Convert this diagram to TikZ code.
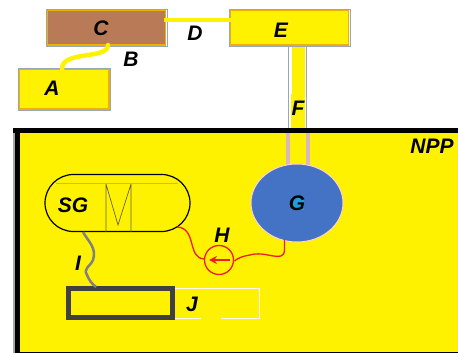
\documentclass[tikz,border=0pt]{standalone}
\usepackage{fontspec}
\setmainfont{Liberation Sans}
\usetikzlibrary{arrows.meta,shapes.misc,shapes.geometric,calc}
\definecolor{yel}{HTML}{FFF200}
\definecolor{org}{HTML}{F0B000}
\definecolor{edge}{HTML}{9AA5B8}
\definecolor{brn}{HTML}{B97A57}
\definecolor{blu}{HTML}{4472C4}
\definecolor{red1}{HTML}{EE1C25}
\definecolor{dgr}{HTML}{404040}
\definecolor{pipeb}{HTML}{D8B8C0}
\tikzset{
 lab/.style={font=\fontsize{21}{23}\selectfont\bfseries\itshape,inner sep=0pt,text=black},
 boxy/.style={rectangle,draw=org,line width=1.5pt,fill=yel,inner sep=0pt,outer sep=0pt},
 frame/.style={draw=edge,line width=0.9pt},
 yline/.style={draw=yel,line width=4.5pt,line cap=round},
 redl/.style={draw=red1,line width=1.3pt},
}
\begin{document}
\begin{tikzpicture}[x=1pt,y=-1pt]
\useasboundingbox (0,0) rectangle (458,353);
% plant area
\fill[yel] (15,130) rectangle (458,353);
\fill[gray!70] (13,130) rectangle (15,353);
\fill[black] (15,130) rectangle (19.5,353);
\fill[black] (19,352) rectangle (458,353);
% pipe F (above and within the plant)
\fill[yel] (292,47) rectangle (305,128);
\draw[edge,line width=1.2pt] (288.5,47) -- (288.5,128) (306.5,47) -- (306.5,128);
\draw[pipeb,line width=4pt] (287.5,132) -- (287.5,168) (307.5,132) -- (307.5,168);
\fill[yel] (291,94) rectangle (305,128);
\fill[black] (13,127.5) rectangle (458,132.5);
% boxes
\node[boxy,fill=brn,minimum width=118pt,minimum height=35pt] (C) at (106.5,27.5) {};
\draw[frame] (46,9) rectangle (167,46);
\node[boxy,minimum width=90pt,minimum height=40pt] (A) at (64,89) {};
\draw[frame] (18,68) rectangle (110,110);
\node[boxy,minimum width=118pt,minimum height=35pt] (E) at (289.5,27.5) {};
\draw[frame] (229,9) rectangle (350,46);
% connectors
\coordinate (cs) at (108,45);
\coordinate (as) at (62,69);
\draw[yline] (cs) .. controls (108,60) and (62,50) .. (as);
\draw[yline,line cap=butt] ($(C.east)+(-2,-7.5)$) -- ($(E.west)+(3,-7.5)$);
% G
\node[ellipse,draw=pink!70!white,line width=1pt,fill=blu,minimum width=92pt,minimum height=78pt,inner sep=0pt] (G) at (297,203) {};
\fill[cyan!80!blue!90!white] (291,197) rectangle (304,210);
% SG
\node[rounded rectangle,draw=black,line width=1.2pt,fill=yel,minimum width=145pt,minimum height=57pt,inner sep=0pt] (SG) at (117.5,203) {};
\coordinate (tl) at (56,183);
\coordinate (tr) at (178,183);
\draw[teal!60!cyan!60!white,line width=0.7pt] (tl) -- (tr);
\draw[black!70!yellow,line width=0.7pt] (106,184) -- (106,232) (131,184) -- (131,232)
  (106,184) -- (118,225) -- (131,184);
% J boxes
\draw[white!85!pink,line width=1pt] (175,288.5) -- (259,288.5) -- (259,318.5) -- (221,318.5) (201,318.5) -- (175,318.5);
\node[rectangle,draw=dgr,line width=5pt,fill=yel,minimum width=104pt,minimum height=29pt,inner sep=0pt,outer sep=0pt] (Jb) at (120.5,303) {};
% grey link I
\coordinate (si) at (83,232);
\coordinate (ji) at (96,287);
\draw[gray,line width=2.5pt] (si) .. controls (88,241) and (97,248) .. (93,260)
  .. controls (90,267) and (83,268) .. (87,275) .. controls (89,280) and (92,284) .. (ji);
% H
\node[circle,draw=red1,line width=1.3pt,fill=none,minimum size=29pt,inner sep=0pt] (Hc) at (219,260) {};
\coordinate (sr) at (177,227);
\coordinate (gb) at (284.5,239);
\draw[redl] (sr) .. controls (197,228) and (187,258) .. (204,259);
\draw[redl] (gb) -- (284.5,250) .. controls (284,264) and (265,250) .. (250,255) .. controls (243,256) and (238,258) .. (234.5,261);
\coordinate (ha) at (230,260);
\coordinate (hb) at (209,260);
\draw[red1,line width=1.3pt,-{Stealth[length=8pt,width=8pt]}] (ha) -- (hb);
% labels
\node[lab] (lC) at (101,28) {C};
\node[lab] (lA) at (52,88) {A};
\node[lab] (lB) at (131,59) {B};
\node[lab] (lD) at (195,33) {D};
\node[lab] (lE) at (281,30) {E};
\node[lab] (lF) at (298,108) {F};
\node[lab] (lNPP) at (432,146) {NPP};
\node[lab] (lG) at (297,203) {G};
\node[lab] (lSG) at (73,205) {SG};
\node[lab] (lH) at (222,235) {H};
\node[lab] (lI) at (78,263) {I};
\node[lab] (lJ) at (192,304) {J};
\end{tikzpicture}
\end{document}
